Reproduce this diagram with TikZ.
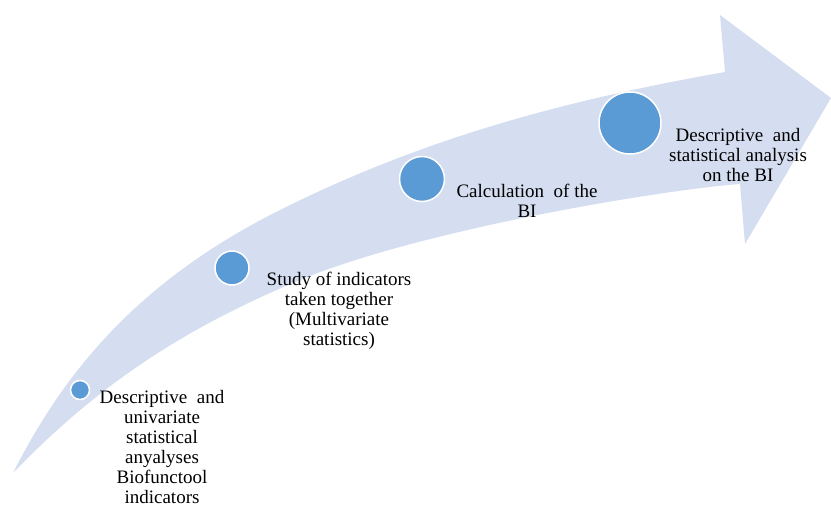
\documentclass[tikz,border=0pt]{standalone}
\usepackage{fontspec}
\setmainfont{Liberation Serif}
\definecolor{bandblue}{RGB}{213,222,240}
\definecolor{dotblue}{RGB}{91,155,213}
\begin{document}
\begin{tikzpicture}[
  stage/.style={circle,fill=dotblue,draw=white,line width=1.5pt,inner sep=0pt},
  stagetext/.style={align=center,inner sep=0pt,font=\fontsize{19}{20}\selectfont}]
\begin{scope}[x=1pt,y=-1pt]
\useasboundingbox (0,0) rectangle (831,509);
% curved arrow
\fill [bandblue] (13,473) .. controls (65,370) and (140,280) .. (280,210)
  .. controls (420,140) and (560,101) .. (725,72) -- (720,15) -- (831,98)
  -- (745,244) -- (740,184) .. controls (660,190) and (420,230) .. (300,280)
  .. controls (180,330) and (96,387) .. (13,473) -- cycle;
% stages
\node [stage,minimum size=19pt] (s1) at (80,390) {};
\node [stage,minimum size=34pt] (s2) at (232,268) {};
\node [stage,minimum size=45pt] (s3) at (422,179) {};
\node [stage,minimum size=62pt] (s4) at (630,123) {};
\node [stagetext] (t1) at (162,447) {Descriptive\ \ and\\univariate\\statistical\\anyalyses\\Biofunctool\\indicators};
\node [stagetext] (t2) at (339,311) {Study of indicators\\taken together\\(Multivariate\\statistics)};
\node [stagetext] (t3) at (527,201) {Calculation\ \ of the\\BI};
\node [stagetext] (t4) at (738,155) {Descriptive\ \ and\\statistical\ analysis\\on the BI};
\end{scope}
\end{tikzpicture}
\end{document}
